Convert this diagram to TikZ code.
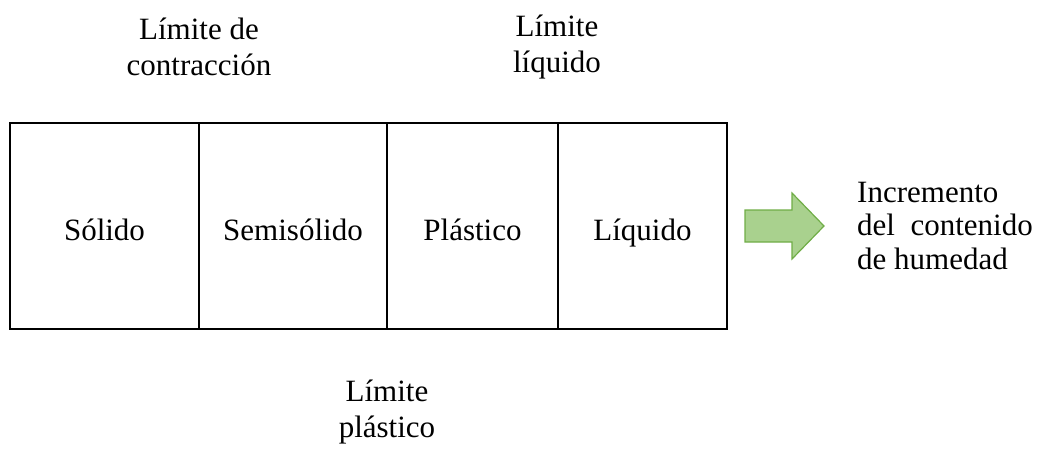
\documentclass[tikz,border=0pt]{standalone}
\usepackage{fontspec}
\setmainfont{Liberation Serif}
\definecolor{arrowfill}{RGB}{169,209,142}
\definecolor{arrowdraw}{RGB}{112,173,71}
\begin{document}
\begin{tikzpicture}[x=1pt,y=-1pt,
  cell/.style={draw, line width=2pt, inner sep=0pt, outer sep=0pt,
    minimum height=206pt, text height=34pt, text depth=6pt,
    font=\fontsize{31}{35.6}\selectfont},
  lbl/.style={align=center, inner sep=0pt, font=\fontsize{31}{36}\selectfont},
  side/.style={align=left, inner sep=0pt, font=\fontsize{31}{33.5}\selectfont},
  bigarrow/.style={fill=arrowfill, draw=arrowdraw, line width=1.2pt, line join=miter}]
\useasboundingbox (0,0) rectangle (1040,450);
\node[cell, minimum width=189pt] (c1) at (104.5,226) {Sólido};
\node[cell, minimum width=188pt] (c2) at (293,226) {Semisólido};
\node[cell, minimum width=171pt] (c3) at (472.5,226) {Plástico};
\node[cell, minimum width=169pt] (c4) at (642.5,226) {Líquido};
\node[lbl] (lc) at (199,47) {Límite de\\contracción};
\node[lbl] (ll) at (557,47) {Límite\\líquido};
\node[lbl] (lp) at (387,412) {Límite\\plástico};
\draw[bigarrow] (745,210) -- (792,210) -- (792,193) -- (824,226) -- (792,259) -- (792,242) -- (745,242) -- cycle;
\node[side, anchor=west] (inc) at (857,225.5) {Incremento\\del\ \ contenido\\de humedad};
\end{tikzpicture}
\end{document}
